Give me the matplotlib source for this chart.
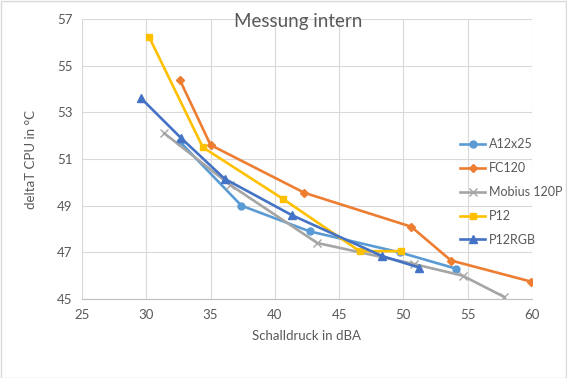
import matplotlib
matplotlib.use("Agg")
import matplotlib.pyplot as plt
from matplotlib.patches import Rectangle

# Messwerte (Schalldruck in dBA, deltaT CPU in °C)
a12_x = [32.6, 37.4, 42.7, 49.7, 54.1]
a12_y = [51.75, 49.0, 47.9, 47.0, 46.3]

fc120_x = [32.6, 35.0, 42.3, 50.6, 53.7, 59.9]
fc120_y = [54.4, 51.6, 49.55, 48.1, 46.65, 45.75]

mobius_x = [31.4, 36.5, 43.3, 50.8, 54.6, 57.8]
mobius_y = [52.1, 49.9, 47.4, 46.5, 46.0, 45.1]

p12_x = [30.2, 34.4, 40.6, 46.6, 49.8]
p12_y = [56.25, 51.5, 49.3, 47.05, 47.05]

p12rgb_x = [29.6, 32.7, 36.1, 41.3, 48.3, 51.2]
p12rgb_y = [53.6, 51.9, 50.15, 48.6, 46.85, 46.35]

plt.rcParams['font.family'] = ['Lato', 'DejaVu Sans']

fig = plt.figure(figsize=(5.67, 3.78), dpi=100)
ax = fig.add_axes([82 / 567, 1 - 299 / 378, 450 / 567, 280 / 378])

ax.plot(a12_x, a12_y, color='#5B9BD5', lw=1.9, marker='o', ms=5, label='A12x25')
ax.plot(fc120_x, fc120_y, color='#ED7D31', lw=1.9, marker='D', ms=4, label='FC120')
ax.plot(mobius_x, mobius_y, color='#A5A5A5', lw=1.9, marker='x', ms=6, mew=1, label='Mobius 120P')
ax.plot(p12_x, p12_y, color='#FFC000', lw=1.9, marker='s', ms=5, label='P12')
ax.plot(p12rgb_x, p12rgb_y, color='#4472C4', lw=1.9, marker='^', ms=6, label='P12RGB')

ax.set_xlim(25, 60)
ax.set_ylim(45, 57)
ax.set_xticks(range(25, 61, 5))
ax.set_yticks(range(45, 58, 2))
ax.grid(True, color='#D9D9D9', lw=0.8)
ax.set_axisbelow(True)
for s in ['top', 'right', 'left']:
    ax.spines[s].set_visible(False)
ax.spines['bottom'].set_color('#BFBFBF')
ax.tick_params(length=0, labelsize=9.5, labelcolor='#595959', pad=7)

ax.set_xlabel('Schalldruck in dBA', fontsize=9.5, color='#595959', labelpad=7)
ax.set_ylabel('deltaT CPU in °C', fontsize=9.5, color='#595959', labelpad=14)

fig.text(298 / 567, 1 - 21 / 378, 'Messung intern', fontsize=13.5, color='#595959',
         ha='center', va='center')

leg = ax.legend(loc='upper left', bbox_to_anchor=(449 / 567, 1 - 127 / 378),
                bbox_transform=fig.transFigure, frameon=False, fontsize=9,
                handlelength=2.0, labelspacing=0.95, handletextpad=0.3)
for t in leg.get_texts():
    t.set_color('#595959')

fig.patches.append(Rectangle((0.001, 0.001), 0.997, 0.997, transform=fig.transFigure,
                             fill=False, edgecolor='#D9D9D9', lw=1))

fig.savefig('out.png', dpi=100)
